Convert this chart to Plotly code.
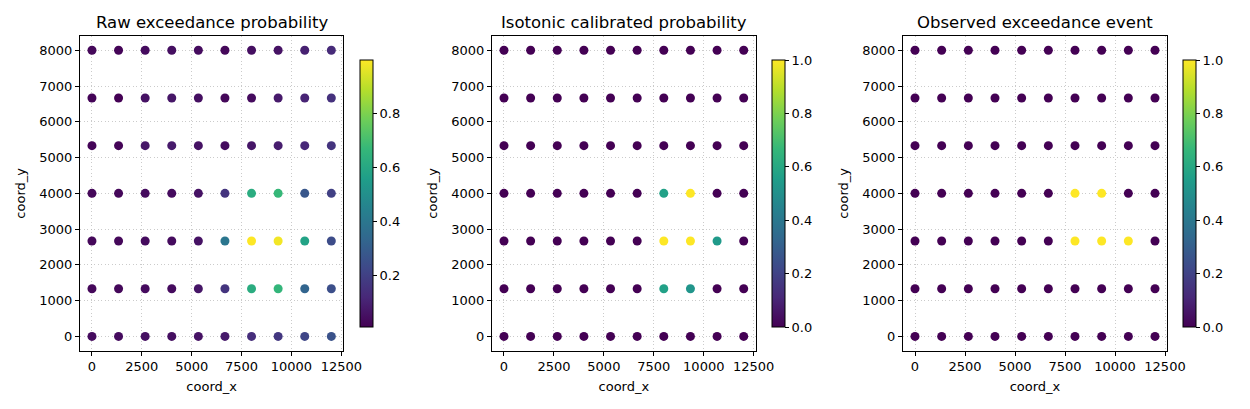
import plotly.graph_objects as go

# ---- data ----
coord_x_levels = [0, 1333, 2667, 4000, 5333, 6667, 8000, 9333, 10667, 12000]
coord_y_levels = [0, 1333, 2667, 4000, 5333, 6667, 8000]

# rows follow coord_y_levels (ascending), columns follow coord_x_levels
raw_prob = [
    [0.04, 0.04, 0.05, 0.05, 0.06, 0.08, 0.14, 0.17, 0.22, 0.26],
    [0.03, 0.03, 0.04, 0.04, 0.07, 0.16, 0.62, 0.66, 0.33, 0.25],
    [0.03, 0.03, 0.04, 0.04, 0.06, 0.40, 0.996, 0.98, 0.58, 0.24],
    [0.03, 0.03, 0.04, 0.04, 0.06, 0.16, 0.62, 0.67, 0.28, 0.20],
    [0.02, 0.02, 0.07, 0.08, 0.06, 0.04, 0.07, 0.09, 0.12, 0.16],
    [0.02, 0.011, 0.06, 0.07, 0.05, 0.03, 0.04, 0.08, 0.11, 0.15],
    [0.03, 0.02, 0.04, 0.05, 0.04, 0.03, 0.05, 0.06, 0.10, 0.13],
]
iso_prob = [
    [0, 0, 0, 0, 0, 0, 0, 0, 0, 0],
    [0, 0, 0, 0, 0, 0, 0.57, 0.52, 0, 0],
    [0, 0, 0, 0, 0, 0, 1.0, 1.0, 0.54, 0],
    [0, 0, 0, 0, 0, 0, 0.57, 1.0, 0, 0],
    [0, 0, 0, 0, 0, 0, 0, 0, 0, 0],
    [0, 0, 0, 0, 0, 0, 0, 0, 0, 0],
    [0, 0, 0, 0, 0, 0, 0, 0, 0, 0],
]
observed = [
    [0, 0, 0, 0, 0, 0, 0, 0, 0, 0],
    [0, 0, 0, 0, 0, 0, 0, 0, 0, 0],
    [0, 0, 0, 0, 0, 0, 1, 1, 1, 0],
    [0, 0, 0, 0, 0, 0, 1, 1, 0, 0],
    [0, 0, 0, 0, 0, 0, 0, 0, 0, 0],
    [0, 0, 0, 0, 0, 0, 0, 0, 0, 0],
    [0, 0, 0, 0, 0, 0, 0, 0, 0, 0],
]
titles = ["Raw exceedance probability", "Isotonic calibrated probability", "Observed exceedance event"]
x_ticks = [0, 2500, 5000, 7500, 10000, 12500]
y_ticks = [0, 1000, 2000, 3000, 4000, 5000, 6000, 7000, 8000]

W, H = 1250, 409
FONT = "DejaVu Sans"

xs, ys = [], []
for yv in coord_y_levels:
    for xv in coord_x_levels:
        xs.append(xv)
        ys.append(yv)

def flat(m):
    return [v for row in m for v in row]

panels = [raw_prob, iso_prob, observed]
# pixel layout
px_left = [80, 492, 903]
px_right = [343.3, 755.7, 1167]
cb_left = [360, 772, 1183]
top_px, bot_px = 36, 350.7
cb_top, cb_bot = 60, 327

fig = go.Figure()
for i, m in enumerate(panels):
    n = i + 1
    sfx = "" if n == 1 else str(n)
    fig.add_trace(go.Scatter(
        x=xs, y=ys, mode="markers",
        xaxis="x" + sfx, yaxis="y" + sfx,
        marker=dict(size=9, color=flat(m), coloraxis="coloraxis" + sfx, line=dict(width=0)),
        showlegend=False, hoverinfo="x+y",
    ))
    dom_x = [px_left[i] / W, px_right[i] / W]
    dom_y = [1 - bot_px / H, 1 - top_px / H]
    axcommon = dict(
        showline=True, linecolor="black", linewidth=1, mirror=True,
        ticks="outside", ticklen=4, tickcolor="black", tickwidth=1,
        showgrid=True, gridcolor="rgba(185,185,185,0.75)", griddash="1px,2.5px", gridwidth=0.8,
        zeroline=False, tickfont=dict(family=FONT, size=13, color="black"),
        title_font=dict(family=FONT, size=13, color="black"),
        tickformat="d", automargin=False,
    )
    fig.update_layout(**{
        "xaxis" + sfx: dict(domain=dom_x, range=[-600, 12600], tickvals=x_ticks,
                            title=dict(text="coord_x", standoff=8), anchor="y" + sfx, **axcommon),
        "yaxis" + sfx: dict(domain=dom_y, range=[-400, 8400], tickvals=y_ticks,
                            title=dict(text="coord_y", standoff=10), anchor="x" + sfx, **axcommon),
    })
    cb = dict(
        x=cb_left[i] / W, xanchor="left", xpad=0, ypad=0,
        y=1 - (cb_top + cb_bot) / 2 / H, yanchor="middle",
        len=cb_bot - cb_top, lenmode="pixels", thickness=13,
        outlinewidth=1, outlinecolor="black",
        ticks="outside", ticklen=4, tickcolor="black",
        tickfont=dict(family=FONT, size=13, color="black"),
        dtick=0.2, tick0=0, tickformat=".1f",
    )
    ca = dict(colorscale="Viridis", colorbar=cb)
    if n != 1:
        ca["cmin"] = 0
        ca["cmax"] = 1
    fig.update_layout(**{"coloraxis" + sfx: ca})
    fig.add_annotation(
        text=titles[i], xref="paper", yref="paper",
        x=(px_left[i] + px_right[i]) / 2 / W, y=1 - 34 / H,
        xanchor="center", yanchor="bottom", showarrow=False,
        font=dict(family=FONT, size=16.5, color="black"),
    )

fig.update_layout(
    width=W, height=H, margin=dict(l=0, r=0, t=0, b=0, autoexpand=False),
    paper_bgcolor="white", plot_bgcolor="white",
    font=dict(family=FONT, color="black"),
)
fig.write_html("out.html")
